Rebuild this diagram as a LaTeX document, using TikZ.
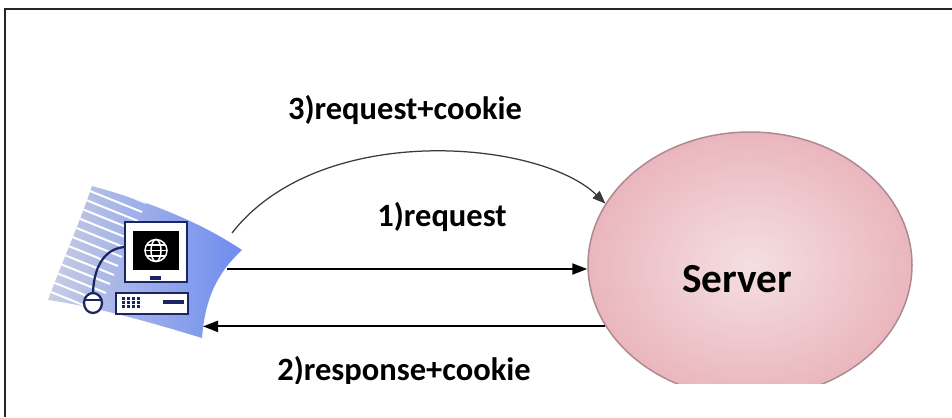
\documentclass[tikz,border=0pt]{standalone}
\usepackage{fontspec}
\setmainfont{Carlito}
\usepackage{xcolor}
\definecolor{WebNavy}  {HTML}{1C2563}
\definecolor{WebBlue}  {HTML}{6E8CF0}
\definecolor{WebStreak}{HTML}{9CA5CC}
\definecolor{SrvLight} {HTML}{F4DFE2}
\definecolor{SrvDeep}  {HTML}{EAB6BD}
\definecolor{SrvEdge}  {HTML}{AD8A92}
\definecolor{ArcGray}  {HTML}{3A3A3A}
\usetikzlibrary{arrows.meta,positioning,shapes.geometric,calc}
\tikzset{
  flow/.style={-{Triangle[length=3mm,width=2.2mm]},line width=0.4mm,black},
  arcflow/.style={-{Triangle[length=2.6mm,width=2mm]},line width=0.25mm,ArcGray},
  msg/.style={font=\fontsize{18.5}{20}\selectfont\bfseries,anchor=base,inner sep=0pt},
  navyline/.style={draw=WebNavy,line width=0.55mm}
}

\begin{document}
\begin{tikzpicture}[x=0.2mm,y=-0.2mm]
  \useasboundingbox (0,0) rectangle (952,417);
  % Page frame
  \draw[line width=0.4mm,black!85] (5,417) -- (5,8.5) -- (952,8.5);
  % Client: swoosh behind the computer
  \path[shading=axis,left color=WebStreak!55!white,middle color=WebBlue!95,
    right color=WebBlue]
    (92,186) .. controls (150,202) and (200,222) .. (242,250)
    .. controls (216,274) and (205,300) .. (202,338)
    .. controls (150,322) and (92,306) .. (48,300)
    .. controls (62,262) and (80,222) .. (92,186) -- cycle;
  \begin{scope}
    \clip (92,186) .. controls (150,202) and (200,222) .. (242,250)
      .. controls (216,274) and (205,300) .. (202,338)
      .. controls (150,322) and (92,306) .. (48,300)
      .. controls (62,262) and (80,222) .. (92,186) -- cycle;
    \foreach \k in {0,...,14}
      \draw[white,line width=0.4mm] (94-4*\k,182+9*\k) -- ++(52,21);
  \end{scope}
  % Monitor
  \filldraw[navyline,fill=white] (125,222) rectangle (187,282);
  \fill[black] (133,231) rectangle (179,270);
  \fill[WebNavy] (150,276) rectangle (161,279.5);
  % Globe on the screen
  \begin{scope}[white,line width=0.3mm]
    \draw (156,250.5) circle[radius=11];
    \draw (156,250.5) ellipse[x radius=5,y radius=11];
    \draw (145,250.5) -- (167,250.5);
    \draw (147,245) -- (165,245);
    \draw (147,256) -- (165,256);
  \end{scope}
  % Base unit with keypad and slot
  \filldraw[navyline,fill=white] (116,293) rectangle (188,314);
  \foreach \r in {0,1,2}
    \foreach \c in {0,...,3}
      \fill[WebNavy] (122+5*\c,297+4*\r) rectangle ++(3,2.5);
  \fill[WebNavy] (163,300) rectangle (184,304);
  % Mouse and its cable
  \draw[navyline,line width=0.45mm] (93,293) .. controls (94,262) and (108,248) .. (125,247);
  \filldraw[navyline,line width=0.45mm,fill=white] (93,303) ellipse[x radius=9,y radius=10];
  \draw[WebNavy,line width=0.35mm] (84.5,300) -- (101.5,300);
  % Client ports
  \coordinate (req-out) at (227,269);
  \coordinate (resp-in) at (203,327);
  \coordinate (cookie-out) at (232,233);
  % Server and the text cut at the lower edge
  \begin{scope}
    \clip (0,0) rectangle (952,383);
    \node[ellipse,draw=SrvEdge,line width=0.3mm,inner color=SrvLight,
      outer color=SrvDeep,minimum width=64.8mm,minimum height=53.2mm]
      (server) at (750,265) {};
    \node[font=\fontsize{23.5}{26}\selectfont\bfseries,anchor=base]
      (srvname) at (737,292) {Server};
    \node[msg] (resp) at (404,380) {2)response+cookie};
  \end{scope}
  % Messages
  \draw[arcflow] (cookie-out) .. controls (320,120) and (540,140) .. (server.157);
  \node[msg] (again) at (405,119) {3)request+cookie};
  \draw[flow] (req-out) -- (req-out -| server.west);
  \node[msg] (req) at (442,226) {1)request};
  \draw[flow] (server.203) -- (server.203 -| resp-in);
\end{tikzpicture}
\end{document}
